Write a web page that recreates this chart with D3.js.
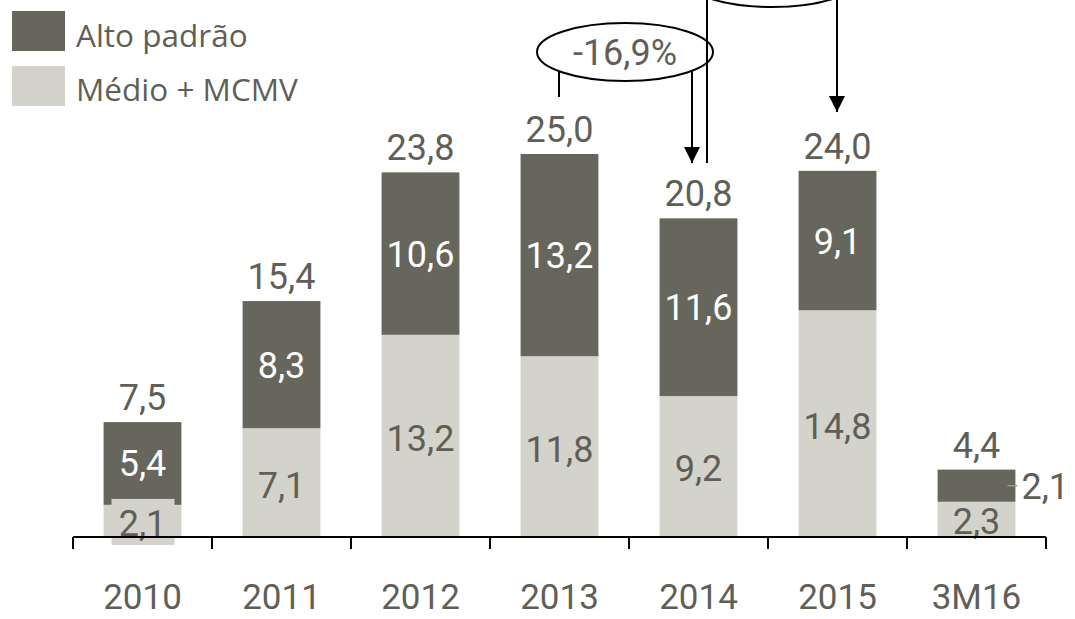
<!DOCTYPE html>
<html><head><meta charset="utf-8">
<script src="https://cdn.jsdelivr.net/npm/d3@7"></script>
<style>body{margin:0;background:#fff}svg{display:block}</style>
</head><body>
<script>
const categories = ["2010","2011","2012","2013","2014","2015","3M16"];
const medio = [2.1, 7.1, 13.2, 11.8, 9.2, 14.8, 2.3];
const alto  = [5.4, 8.3, 10.6, 13.2, 11.6, 9.1, 2.1];
const totals = [7.5, 15.4, 23.8, 25.0, 20.8, 24.0, 4.4];
const seriesNames = ["Alto padrão", "Médio + MCMV"];
const growthLabel = "-16,9%";

const W = 1075, H = 619;
const dark = "#66665c", light = "#d3d3cb", textGray = "#5f5f57";
const fmt = v => v.toFixed(1).replace(".", ",");
const numFont = "Roboto, 'DejaVu Sans', sans-serif";

const svg = d3.select("body").append("svg").attr("width", W).attr("height", H);

const x = d3.scaleBand().domain(categories).range([73, 1046]).paddingInner(0.44).paddingOuter(0.22);
const y = d3.scaleLinear().domain([0, 25]).range([537, 154]);

const data = categories.map((c, i) => ({c, m: medio[i], a: alto[i], t: totals[i]}));

// bars
const g = svg.append("g");
g.selectAll("rect.m").data(data).join("rect")
  .attr("x", d => x(d.c)).attr("width", x.bandwidth())
  .attr("y", d => y(d.m)).attr("height", d => y(0) - y(d.m)).attr("fill", light);
g.selectAll("rect.a").data(data).join("rect")
  .attr("x", d => x(d.c)).attr("width", x.bandwidth())
  .attr("y", d => y(d.m + d.a)).attr("height", d => y(d.m) - y(d.m + d.a)).attr("fill", dark);

// total labels
g.selectAll("text.t").data(data).join("text")
  .attr("x", d => x(d.c) + x.bandwidth()/2).attr("y", d => y(d.m + d.a) - 12)
  .attr("text-anchor", "middle").attr("font-family", numFont).attr("font-size", 36)
  .attr("fill", textGray).text(d => fmt(d.t));

// inside alto labels (except last)
g.selectAll("text.a").data(data.filter(d => d.c !== "3M16")).join("text")
  .attr("x", d => x(d.c) + x.bandwidth()/2).attr("y", d => (y(d.m) + y(d.m + d.a))/2)
  .attr("dy", "0.36em")
  .attr("text-anchor", "middle").attr("font-family", numFont).attr("font-size", 36)
  .attr("fill", "#ffffff").text(d => fmt(d.a));

// medio label background for small first bar
const first = data[0];
g.append("rect")
  .attr("x", x(first.c) + x.bandwidth()/2 - 31).attr("y", (y(0) + y(first.m))/2 - 22)
  .attr("width", 63).attr("height", 46).attr("fill", light);

// axis
const axisG = svg.append("g");
axisG.append("line").attr("x1", 73).attr("x2", 1046).attr("y1", y(0)).attr("y2", y(0))
  .attr("stroke", "#000").attr("stroke-width", 2);
const step = x.step();
const tickXs = d3.range(categories.length + 1).map(i => x(categories[0]) - x.paddingOuter()*step + i*step);
axisG.selectAll("line.tk").data(tickXs).join("line")
  .attr("x1", d => d).attr("x2", d => d).attr("y1", y(0)).attr("y2", y(0) + 12)
  .attr("stroke", "#000").attr("stroke-width", 2);
axisG.selectAll("text").data(categories).join("text")
  .attr("x", d => x(d) + x.bandwidth()/2).attr("y", 609)
  .attr("text-anchor", "middle").attr("font-family", numFont).attr("font-size", 35)
  .attr("fill", textGray).text(d => d);

// medio labels
g.selectAll("text.m").data(data).join("text")
  .attr("x", d => x(d.c) + x.bandwidth()/2).attr("y", d => (y(0) + y(d.m))/2 + 2)
  .attr("dy", "0.36em")
  .attr("text-anchor", "middle").attr("font-family", numFont).attr("font-size", 36)
  .attr("fill", textGray).text(d => fmt(d.m));

// last alto label outside with leader
const last = data[data.length - 1];
const ly = (y(last.m) + y(last.m + last.a))/2;
const lx = x(last.c) + x.bandwidth();
g.append("line").attr("x1", lx - 8).attr("x2", lx + 2).attr("y1", ly).attr("y2", ly)
  .attr("stroke", "#9a9a92").attr("stroke-width", 1.5);
g.append("text").attr("x", lx + 6).attr("y", ly).attr("dy", "0.36em")
  .attr("font-family", numFont).attr("font-size", 36).attr("fill", textGray).text(fmt(last.a));

// legend
const leg = svg.append("g");
[dark, light].forEach((col, i) => {
  leg.append("rect").attr("x", 12).attr("y", 11 + i*55).attr("width", 53).attr("height", 40).attr("fill", col);
  leg.append("text").attr("x", 76).attr("y", 47 + i*54).attr("font-family", "'Open Sans', sans-serif")
    .attr("font-size", 31.5).attr("fill", textGray).text(seriesNames[i]);
});

// annotations
const ann = svg.append("g").attr("fill", "none").attr("stroke", "#000").attr("stroke-width", 2);
const defs = svg.append("defs");
defs.append("marker").attr("id", "ah").attr("viewBox", "0 0 10 10").attr("refX", 10).attr("refY", 5)
  .attr("markerWidth", 16).attr("markerHeight", 16).attr("markerUnits", "userSpaceOnUse").attr("orient", "auto")
  .append("path").attr("d", "M0,0 L10,5 L0,10 Z").attr("fill", "#000").attr("stroke", "none");

// -16,9% ellipse
ann.append("line").attr("x1", 559).attr("x2", 559).attr("y1", 72).attr("y2", 97);
ann.append("line").attr("x1", 692).attr("x2", 692).attr("y1", 71).attr("y2", 163).attr("marker-end", "url(#ah)");
ann.append("ellipse").attr("cx", 625).attr("cy", 52).attr("rx", 88).attr("ry", 29).attr("fill", "#fff");
svg.append("text").attr("x", 625).attr("y", 65).attr("text-anchor", "middle")
  .attr("font-family", numFont).attr("font-size", 36).attr("fill", textGray).text(growthLabel);

// second bracket (mostly off-canvas)
ann.append("line").attr("x1", 707).attr("x2", 707).attr("y1", 0).attr("y2", 163);
ann.append("line").attr("x1", 837).attr("x2", 837).attr("y1", 0).attr("y2", 112).attr("marker-end", "url(#ah)");
ann.append("ellipse").attr("cx", 772).attr("cy", -22).attr("rx", 88).attr("ry", 29).attr("fill", "#fff");
</script>
</body></html>
